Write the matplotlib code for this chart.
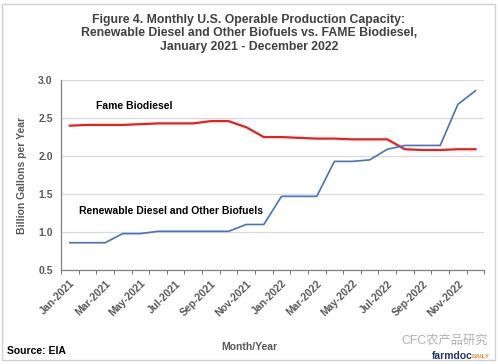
import matplotlib.pyplot as plt
from matplotlib.patches import Rectangle

# Monthly operable capacity, billion gallons per year
months = ['Jan-2021', 'Feb-2021', 'Mar-2021', 'Apr-2021', 'May-2021', 'Jun-2021',
          'Jul-2021', 'Aug-2021', 'Sep-2021', 'Oct-2021', 'Nov-2021', 'Dec-2021',
          'Jan-2022', 'Feb-2022', 'Mar-2022', 'Apr-2022', 'May-2022', 'Jun-2022',
          'Jul-2022', 'Aug-2022', 'Sep-2022', 'Oct-2022', 'Nov-2022', 'Dec-2022']
fame = [2.40, 2.41, 2.41, 2.41, 2.42, 2.43, 2.43, 2.43, 2.46, 2.46, 2.38, 2.25,
        2.25, 2.24, 2.23, 2.23, 2.22, 2.22, 2.22, 2.09, 2.08, 2.08, 2.09, 2.09]
renewable = [0.86, 0.86, 0.86, 0.98, 0.98, 1.01, 1.01, 1.01, 1.01, 1.01, 1.10, 1.10,
             1.47, 1.47, 1.47, 1.93, 1.93, 1.95, 2.09, 2.14, 2.14, 2.14, 2.68, 2.86]
yticks = [0.5, 1.0, 1.5, 2.0, 2.5, 3.0]

gray = '#595959'
plt.rcParams['font.family'] = ['Liberation Sans', 'Noto Sans CJK SC', 'DejaVu Sans']

fig = plt.figure(figsize=(4.98, 3.64), dpi=100)
fig.patches.append(Rectangle((0.005, 0.01), 0.988, 0.98, transform=fig.transFigure,
                             fill=False, edgecolor='#d0d0d0', linewidth=1.0))
ax = fig.add_axes([0.1225, 0.258, 0.85, 0.522])

x = range(len(months))
ax.plot(x, fame, color='#ee1c1c', linewidth=1.6)
ax.plot(x, renewable, color='#4472c4', linewidth=1.2)

ax.set_xlim(-0.5, len(months) - 0.5)
ax.set_ylim(0.5, 3.0)
ax.set_yticks(yticks)
ax.set_yticklabels([f'{v:.1f}' for v in yticks], color=gray, fontsize=7.5, fontweight='bold')
ax.tick_params(axis='y', length=0, pad=6)
ax.grid(axis='y', color='#d9d9d9', linewidth=0.9)
ax.set_axisbelow(True)

ax.set_xticks(list(x)[::2])
ax.set_xticklabels(months[::2], rotation=45, ha='right', rotation_mode='anchor',
                   color=gray, fontsize=7.5, fontweight='bold')
ax.set_xticks([i - 0.5 for i in range(len(months) + 1)], minor=True)
ax.tick_params(axis='x', which='major', length=0, pad=6)
ax.tick_params(axis='x', which='minor', length=3, color=gray)

for side in ['top', 'right']:
    ax.spines[side].set_visible(False)
for side in ['left', 'bottom']:
    ax.spines[side].set_color('#808080')
    ax.spines[side].set_linewidth(0.9)

ax.text(1.5, 2.66, 'Fame Biodiesel', fontsize=7.5, fontweight='bold', va='center')
ax.text(0.5, 1.28, 'Renewable Diesel and Other Biofuels', fontsize=7.5,
        fontweight='bold', va='center')

ax.set_ylabel('Billion Gallons per Year', color=gray, fontsize=7.5, fontweight='bold',
              labelpad=8)

fig.text(0.5, 0.908, 'Figure 4. Monthly U.S. Operable Production Capacity:\n'
         'Renewable Diesel and Other Biofuels vs. FAME Biodiesel,\n'
         'January 2021 - December 2022', ha='center', va='center',
         fontsize=8.8, fontweight='bold', color='#404040', linespacing=1.2)
fig.text(0.5, 0.047, 'Month/Year', ha='center', va='center', color=gray,
         fontsize=7.5, fontweight='bold')
fig.text(0.014, 0.037, 'Source: EIA', ha='left', va='center', color='black',
         fontsize=7.5, fontweight='bold')
fig.text(0.805, 0.063, 'CFC农产品研究', ha='left', va='center', color='#b0b0b0',
         fontsize=8.8)
fig.text(0.868, 0.022, 'farmdoc', ha='left', va='center', color='#1f3864',
         fontsize=7.5, fontweight='bold')
fig.text(0.948, 0.020, 'DAILY', ha='left', va='center', color='#e8842c',
         fontsize=4.5, fontweight='bold')

fig.savefig('out.png', dpi=100)
